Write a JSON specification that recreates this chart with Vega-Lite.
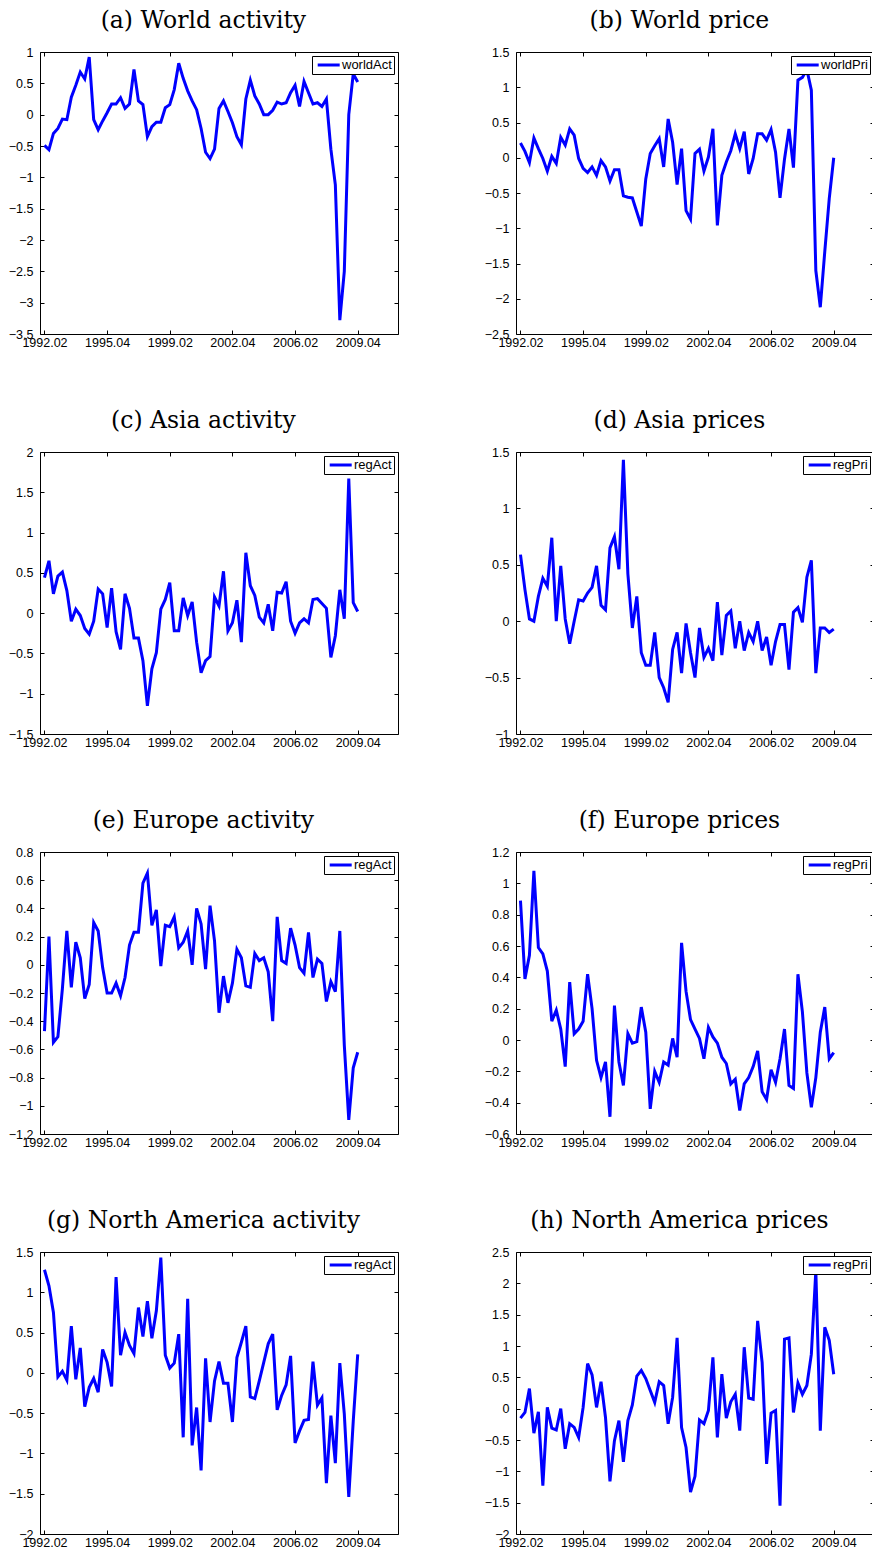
{
  "$schema": "https://vega.github.io/schema/vega-lite/v6.json",
  "padding": {"left": 7, "top": 8, "right": 0, "bottom": 0},
  "background": "white",
  "columns": 2,
  "spacing": {"row": 118, "column": 118},
  "bounds": "flush",
  "resolve": {"scale": {"color": "independent"}, "legend": {"color": "independent"}},
  "datasets": {
    "a": [
      {"t":1,"v":-0.49},{"t":2,"v":-0.56},{"t":3,"v":-0.30},{"t":4,"v":-0.22},{"t":5,"v":-0.07},{"t":6,"v":-0.08},{"t":7,"v":0.28},{"t":8,"v":0.47},{"t":9,"v":0.68},{"t":10,"v":0.57},
      {"t":11,"v":0.92},{"t":12,"v":-0.08},{"t":13,"v":-0.24},{"t":14,"v":-0.10},{"t":15,"v":0.03},{"t":16,"v":0.17},{"t":17,"v":0.17},{"t":18,"v":0.27},{"t":19,"v":0.10},{"t":20,"v":0.17},
      {"t":21,"v":0.72},{"t":22,"v":0.22},{"t":23,"v":0.16},{"t":24,"v":-0.35},{"t":25,"v":-0.19},{"t":26,"v":-0.12},{"t":27,"v":-0.12},{"t":28,"v":0.11},{"t":29,"v":0.16},{"t":30,"v":0.40},
      {"t":31,"v":0.82},{"t":32,"v":0.58},{"t":33,"v":0.38},{"t":34,"v":0.22},{"t":35,"v":0.08},{"t":36,"v":-0.22},{"t":37,"v":-0.60},{"t":38,"v":-0.70},{"t":39,"v":-0.55},{"t":40,"v":0.10},
      {"t":41,"v":0.22},{"t":42,"v":0.05},{"t":43,"v":-0.13},{"t":44,"v":-0.35},{"t":45,"v":-0.48},{"t":46,"v":0.25},{"t":47,"v":0.55},{"t":48,"v":0.30},{"t":49,"v":0.17},{"t":50,"v":0.00},
      {"t":51,"v":0.00},{"t":52,"v":0.07},{"t":53,"v":0.20},{"t":54,"v":0.17},{"t":55,"v":0.19},{"t":56,"v":0.35},{"t":57,"v":0.47},{"t":58,"v":0.13},{"t":59,"v":0.53},{"t":60,"v":0.35},
      {"t":61,"v":0.17},{"t":62,"v":0.19},{"t":63,"v":0.13},{"t":64,"v":0.25},{"t":65,"v":-0.55},{"t":66,"v":-1.12},{"t":67,"v":-3.28},{"t":68,"v":-2.50},{"t":69,"v":0.00},{"t":70,"v":0.65},
      {"t":71,"v":0.52}
    ],
    "b": [
      {"t":1,"v":0.21},{"t":2,"v":0.09},{"t":3,"v":-0.07},{"t":4,"v":0.28},{"t":5,"v":0.13},{"t":6,"v":-0.01},{"t":7,"v":-0.19},{"t":8,"v":0.02},{"t":9,"v":-0.08},{"t":10,"v":0.29},
      {"t":11,"v":0.18},{"t":12,"v":0.41},{"t":13,"v":0.32},{"t":14,"v":-0.01},{"t":15,"v":-0.15},{"t":16,"v":-0.21},{"t":17,"v":-0.13},{"t":18,"v":-0.25},{"t":19,"v":-0.04},{"t":20,"v":-0.13},
      {"t":21,"v":-0.33},{"t":22,"v":-0.17},{"t":23,"v":-0.17},{"t":24,"v":-0.54},{"t":25,"v":-0.56},{"t":26,"v":-0.57},{"t":27,"v":-0.77},{"t":28,"v":-0.97},{"t":29,"v":-0.30},{"t":30,"v":0.06},
      {"t":31,"v":0.17},{"t":32,"v":0.27},{"t":33,"v":-0.13},{"t":34,"v":0.55},{"t":35,"v":0.22},{"t":36,"v":-0.38},{"t":37,"v":0.13},{"t":38,"v":-0.75},{"t":39,"v":-0.87},{"t":40,"v":0.06},
      {"t":41,"v":0.12},{"t":42,"v":-0.19},{"t":43,"v":0.01},{"t":44,"v":0.41},{"t":45,"v":-0.96},{"t":46,"v":-0.25},{"t":47,"v":-0.06},{"t":48,"v":0.10},{"t":49,"v":0.34},{"t":50,"v":0.13},
      {"t":51,"v":0.37},{"t":52,"v":-0.23},{"t":53,"v":-0.01},{"t":54,"v":0.34},{"t":55,"v":0.34},{"t":56,"v":0.25},{"t":57,"v":0.40},{"t":58,"v":0.08},{"t":59,"v":-0.57},{"t":60,"v":-0.02},
      {"t":61,"v":0.41},{"t":62,"v":-0.14},{"t":63,"v":1.10},{"t":64,"v":1.14},{"t":65,"v":1.25},{"t":66,"v":0.96},{"t":67,"v":-1.60},{"t":68,"v":-2.12},{"t":69,"v":-1.33},{"t":70,"v":-0.58},
      {"t":71,"v":0.00}
    ],
    "c": [
      {"t":1,"v":0.44},{"t":2,"v":0.65},{"t":3,"v":0.24},{"t":4,"v":0.46},{"t":5,"v":0.51},{"t":6,"v":0.28},{"t":7,"v":-0.10},{"t":8,"v":0.05},{"t":9,"v":-0.03},{"t":10,"v":-0.19},
      {"t":11,"v":-0.26},{"t":12,"v":-0.10},{"t":13,"v":0.30},{"t":14,"v":0.24},{"t":15,"v":-0.18},{"t":16,"v":0.31},{"t":17,"v":-0.23},{"t":18,"v":-0.45},{"t":19,"v":0.24},{"t":20,"v":0.06},
      {"t":21,"v":-0.31},{"t":22,"v":-0.31},{"t":23,"v":-0.59},{"t":24,"v":-1.15},{"t":25,"v":-0.69},{"t":26,"v":-0.49},{"t":27,"v":0.05},{"t":28,"v":0.17},{"t":29,"v":0.38},{"t":30,"v":-0.22},
      {"t":31,"v":-0.22},{"t":32,"v":0.19},{"t":33,"v":-0.03},{"t":34,"v":0.14},{"t":35,"v":-0.36},{"t":36,"v":-0.74},{"t":37,"v":-0.59},{"t":38,"v":-0.54},{"t":39,"v":0.20},{"t":40,"v":0.09},
      {"t":41,"v":0.52},{"t":42,"v":-0.22},{"t":43,"v":-0.12},{"t":44,"v":0.16},{"t":45,"v":-0.36},{"t":46,"v":0.75},{"t":47,"v":0.34},{"t":48,"v":0.22},{"t":49,"v":-0.05},{"t":50,"v":-0.12},
      {"t":51,"v":0.11},{"t":52,"v":-0.22},{"t":53,"v":0.26},{"t":54,"v":0.25},{"t":55,"v":0.39},{"t":56,"v":-0.10},{"t":57,"v":-0.25},{"t":58,"v":-0.12},{"t":59,"v":-0.07},{"t":60,"v":-0.12},
      {"t":61,"v":0.17},{"t":62,"v":0.18},{"t":63,"v":0.12},{"t":64,"v":0.06},{"t":65,"v":-0.55},{"t":66,"v":-0.28},{"t":67,"v":0.29},{"t":68,"v":-0.07},{"t":69,"v":1.67},{"t":70,"v":0.13},
      {"t":71,"v":0.02}
    ],
    "d": [
      {"t":1,"v":0.59},{"t":2,"v":0.28},{"t":3,"v":0.02},{"t":4,"v":0.00},{"t":5,"v":0.22},{"t":6,"v":0.38},{"t":7,"v":0.31},{"t":8,"v":0.74},{"t":9,"v":0.00},{"t":10,"v":0.49},
      {"t":11,"v":0.02},{"t":12,"v":-0.20},{"t":13,"v":0.00},{"t":14,"v":0.19},{"t":15,"v":0.18},{"t":16,"v":0.25},{"t":17,"v":0.30},{"t":18,"v":0.49},{"t":19,"v":0.14},{"t":20,"v":0.10},
      {"t":21,"v":0.65},{"t":22,"v":0.75},{"t":23,"v":0.46},{"t":24,"v":1.43},{"t":25,"v":0.42},{"t":26,"v":-0.06},{"t":27,"v":0.22},{"t":28,"v":-0.28},{"t":29,"v":-0.39},{"t":30,"v":-0.39},
      {"t":31,"v":-0.10},{"t":32,"v":-0.50},{"t":33,"v":-0.59},{"t":34,"v":-0.72},{"t":35,"v":-0.25},{"t":36,"v":-0.10},{"t":37,"v":-0.46},{"t":38,"v":-0.02},{"t":39,"v":-0.28},{"t":40,"v":-0.50},
      {"t":41,"v":-0.06},{"t":42,"v":-0.32},{"t":43,"v":-0.24},{"t":44,"v":-0.35},{"t":45,"v":0.17},{"t":46,"v":-0.30},{"t":47,"v":0.05},{"t":48,"v":0.09},{"t":49,"v":-0.24},{"t":50,"v":0.00},
      {"t":51,"v":-0.26},{"t":52,"v":-0.10},{"t":53,"v":-0.18},{"t":54,"v":0.00},{"t":55,"v":-0.26},{"t":56,"v":-0.14},{"t":57,"v":-0.39},{"t":58,"v":-0.18},{"t":59,"v":-0.03},{"t":60,"v":-0.03},
      {"t":61,"v":-0.43},{"t":62,"v":0.08},{"t":63,"v":0.12},{"t":64,"v":-0.01},{"t":65,"v":0.39},{"t":66,"v":0.54},{"t":67,"v":-0.46},{"t":68,"v":-0.06},{"t":69,"v":-0.06},{"t":70,"v":-0.10},
      {"t":71,"v":-0.07}
    ],
    "e": [
      {"t":1,"v":-0.47},{"t":2,"v":0.20},{"t":3,"v":-0.55},{"t":4,"v":-0.51},{"t":5,"v":-0.17},{"t":6,"v":0.24},{"t":7,"v":-0.16},{"t":8,"v":0.16},{"t":9,"v":0.05},{"t":10,"v":-0.24},
      {"t":11,"v":-0.14},{"t":12,"v":0.30},{"t":13,"v":0.24},{"t":14,"v":-0.02},{"t":15,"v":-0.20},{"t":16,"v":-0.20},{"t":17,"v":-0.13},{"t":18,"v":-0.22},{"t":19,"v":-0.09},{"t":20,"v":0.14},
      {"t":21,"v":0.23},{"t":22,"v":0.23},{"t":23,"v":0.58},{"t":24,"v":0.65},{"t":25,"v":0.28},{"t":26,"v":0.39},{"t":27,"v":-0.01},{"t":28,"v":0.28},{"t":29,"v":0.27},{"t":30,"v":0.34},
      {"t":31,"v":0.12},{"t":32,"v":0.16},{"t":33,"v":0.24},{"t":34,"v":0.00},{"t":35,"v":0.40},{"t":36,"v":0.29},{"t":37,"v":-0.03},{"t":38,"v":0.42},{"t":39,"v":0.17},{"t":40,"v":-0.34},
      {"t":41,"v":-0.08},{"t":42,"v":-0.27},{"t":43,"v":-0.13},{"t":44,"v":0.11},{"t":45,"v":0.05},{"t":46,"v":-0.15},{"t":47,"v":-0.16},{"t":48,"v":0.08},{"t":49,"v":0.03},{"t":50,"v":0.05},
      {"t":51,"v":-0.05},{"t":52,"v":-0.40},{"t":53,"v":0.34},{"t":54,"v":0.03},{"t":55,"v":0.01},{"t":56,"v":0.26},{"t":57,"v":0.14},{"t":58,"v":-0.02},{"t":59,"v":-0.06},{"t":60,"v":0.23},
      {"t":61,"v":-0.09},{"t":62,"v":0.04},{"t":63,"v":0.01},{"t":64,"v":-0.26},{"t":65,"v":-0.12},{"t":66,"v":-0.19},{"t":67,"v":0.24},{"t":68,"v":-0.57},{"t":69,"v":-1.10},{"t":70,"v":-0.73},
      {"t":71,"v":-0.62}
    ],
    "f": [
      {"t":1,"v":0.89},{"t":2,"v":0.39},{"t":3,"v":0.54},{"t":4,"v":1.08},{"t":5,"v":0.59},{"t":6,"v":0.55},{"t":7,"v":0.44},{"t":8,"v":0.12},{"t":9,"v":0.19},{"t":10,"v":0.07},
      {"t":11,"v":-0.17},{"t":12,"v":0.37},{"t":13,"v":0.04},{"t":14,"v":0.07},{"t":15,"v":0.12},{"t":16,"v":0.42},{"t":17,"v":0.20},{"t":18,"v":-0.13},{"t":19,"v":-0.24},{"t":20,"v":-0.14},
      {"t":21,"v":-0.49},{"t":22,"v":0.22},{"t":23,"v":-0.14},{"t":24,"v":-0.29},{"t":25,"v":0.04},{"t":26,"v":-0.02},{"t":27,"v":-0.01},{"t":28,"v":0.21},{"t":29,"v":0.05},{"t":30,"v":-0.44},
      {"t":31,"v":-0.20},{"t":32,"v":-0.27},{"t":33,"v":-0.14},{"t":34,"v":-0.16},{"t":35,"v":0.01},{"t":36,"v":-0.11},{"t":37,"v":0.62},{"t":38,"v":0.31},{"t":39,"v":0.13},{"t":40,"v":0.07},
      {"t":41,"v":0.01},{"t":42,"v":-0.12},{"t":43,"v":0.08},{"t":44,"v":0.02},{"t":45,"v":-0.02},{"t":46,"v":-0.11},{"t":47,"v":-0.15},{"t":48,"v":-0.28},{"t":49,"v":-0.25},{"t":50,"v":-0.45},
      {"t":51,"v":-0.28},{"t":52,"v":-0.24},{"t":53,"v":-0.17},{"t":54,"v":-0.07},{"t":55,"v":-0.33},{"t":56,"v":-0.38},{"t":57,"v":-0.19},{"t":58,"v":-0.27},{"t":59,"v":-0.12},{"t":60,"v":0.07},
      {"t":61,"v":-0.29},{"t":62,"v":-0.31},{"t":63,"v":0.42},{"t":64,"v":0.18},{"t":65,"v":-0.21},{"t":66,"v":-0.43},{"t":67,"v":-0.24},{"t":68,"v":0.05},{"t":69,"v":0.21},{"t":70,"v":-0.12},
      {"t":71,"v":-0.08}
    ],
    "g": [
      {"t":1,"v":1.28},{"t":2,"v":1.08},{"t":3,"v":0.75},{"t":4,"v":-0.05},{"t":5,"v":0.02},{"t":6,"v":-0.09},{"t":7,"v":0.58},{"t":8,"v":-0.08},{"t":9,"v":0.31},{"t":10,"v":-0.42},
      {"t":11,"v":-0.18},{"t":12,"v":-0.07},{"t":13,"v":-0.24},{"t":14,"v":0.29},{"t":15,"v":0.13},{"t":16,"v":-0.17},{"t":17,"v":1.19},{"t":18,"v":0.22},{"t":19,"v":0.50},{"t":20,"v":0.34},
      {"t":21,"v":0.24},{"t":22,"v":0.81},{"t":23,"v":0.45},{"t":24,"v":0.89},{"t":25,"v":0.43},{"t":26,"v":0.77},{"t":27,"v":1.43},{"t":28,"v":0.22},{"t":29,"v":0.06},{"t":30,"v":0.12},
      {"t":31,"v":0.48},{"t":32,"v":-0.80},{"t":33,"v":0.92},{"t":34,"v":-0.90},{"t":35,"v":-0.43},{"t":36,"v":-1.21},{"t":37,"v":0.18},{"t":38,"v":-0.61},{"t":39,"v":-0.10},{"t":40,"v":0.14},
      {"t":41,"v":-0.13},{"t":42,"v":-0.13},{"t":43,"v":-0.61},{"t":44,"v":0.19},{"t":45,"v":0.38},{"t":46,"v":0.58},{"t":47,"v":-0.30},{"t":48,"v":-0.32},{"t":49,"v":-0.10},{"t":50,"v":0.13},
      {"t":51,"v":0.36},{"t":52,"v":0.48},{"t":53,"v":-0.46},{"t":54,"v":-0.28},{"t":55,"v":-0.15},{"t":56,"v":0.21},{"t":57,"v":-0.87},{"t":58,"v":-0.72},{"t":59,"v":-0.59},{"t":60,"v":-0.58},
      {"t":61,"v":0.14},{"t":62,"v":-0.40},{"t":63,"v":-0.31},{"t":64,"v":-1.37},{"t":65,"v":-0.53},{"t":66,"v":-1.12},{"t":67,"v":0.12},{"t":68,"v":-0.51},{"t":69,"v":-1.54},{"t":70,"v":-0.60},
      {"t":71,"v":0.23}
    ],
    "h": [
      {"t":1,"v":-0.15},{"t":2,"v":-0.06},{"t":3,"v":0.32},{"t":4,"v":-0.39},{"t":5,"v":-0.05},{"t":6,"v":-1.23},{"t":7,"v":0.02},{"t":8,"v":-0.31},{"t":9,"v":-0.34},{"t":10,"v":0.00},
      {"t":11,"v":-0.64},{"t":12,"v":-0.24},{"t":13,"v":-0.30},{"t":14,"v":-0.46},{"t":15,"v":0.02},{"t":16,"v":0.72},{"t":17,"v":0.54},{"t":18,"v":0.02},{"t":19,"v":0.43},{"t":20,"v":-0.14},
      {"t":21,"v":-1.16},{"t":22,"v":-0.51},{"t":23,"v":-0.19},{"t":24,"v":-0.85},{"t":25,"v":-0.19},{"t":26,"v":0.06},{"t":27,"v":0.52},{"t":28,"v":0.61},{"t":29,"v":0.48},{"t":30,"v":0.29},
      {"t":31,"v":0.10},{"t":32,"v":0.43},{"t":33,"v":0.37},{"t":34,"v":-0.24},{"t":35,"v":0.18},{"t":36,"v":1.13},{"t":37,"v":-0.30},{"t":38,"v":-0.62},{"t":39,"v":-1.33},{"t":40,"v":-1.08},
      {"t":41,"v":-0.18},{"t":42,"v":-0.24},{"t":43,"v":-0.03},{"t":44,"v":0.82},{"t":45,"v":-0.46},{"t":46,"v":0.55},{"t":47,"v":-0.15},{"t":48,"v":0.11},{"t":49,"v":0.23},{"t":50,"v":-0.35},
      {"t":51,"v":0.98},{"t":52,"v":0.17},{"t":53,"v":0.15},{"t":54,"v":1.40},{"t":55,"v":0.74},{"t":56,"v":-0.88},{"t":57,"v":-0.07},{"t":58,"v":-0.03},{"t":59,"v":-1.55},{"t":60,"v":1.11},
      {"t":61,"v":1.13},{"t":62,"v":-0.06},{"t":63,"v":0.41},{"t":64,"v":0.23},{"t":65,"v":0.37},{"t":66,"v":0.87},{"t":67,"v":2.20},{"t":68,"v":-0.35},{"t":69,"v":1.30},{"t":70,"v":1.09},
      {"t":71,"v":0.55}
    ]
  },
  "concat": [
    {
      "title": "(a) World activity",
      "width": 358, "height": 282,
      "data": {"name": "a"},
      "layer": [
        {"mark": "line", "encoding": {
          "x": {"field": "t", "type": "quantitative", "scale": {"domain": [0, 80], "nice": false, "zero": false}, "axis": {"orient": "bottom", "values": [1, 15, 29, 43, 57, 71], "labelExpr": "datum.value == 1 ? '1992.02' : datum.value == 15 ? '1995.04' : datum.value == 29 ? '1999.02' : datum.value == 43 ? '2002.04' : datum.value == 57 ? '2006.02' : '2009.04'"}},
          "y": {"field": "v", "type": "quantitative", "scale": {"domain": [-3.5, 1], "nice": false, "zero": false}, "axis": {"orient": "left", "values": [-3.5, -3, -2.5, -2, -1.5, -1, -0.5, 0, 0.5, 1]}},
          "color": {"datum": "worldAct", "type": "nominal", "scale": {"range": ["#0000ff"]}, "legend": {"orient": "top-right"}}
        }},
        {"mark": {"type": "line", "strokeOpacity": 0}, "encoding": {
          "x": {"field": "t", "type": "quantitative", "axis": {"orient": "top", "labels": false, "values": [1, 15, 29, 43, 57, 71]}},
          "y": {"field": "v", "type": "quantitative", "axis": {"orient": "right", "labels": false, "values": [-3.5, -3, -2.5, -2, -1.5, -1, -0.5, 0, 0.5, 1]}}
        }}
      ],
      "resolve": {"axis": {"x": "independent", "y": "independent"}}
    },
    {
      "title": "(b) World price",
      "width": 358, "height": 282,
      "data": {"name": "b"},
      "layer": [
        {"mark": "line", "encoding": {
          "x": {"field": "t", "type": "quantitative", "scale": {"domain": [0, 80], "nice": false, "zero": false}, "axis": {"orient": "bottom", "values": [1, 15, 29, 43, 57, 71], "labelExpr": "datum.value == 1 ? '1992.02' : datum.value == 15 ? '1995.04' : datum.value == 29 ? '1999.02' : datum.value == 43 ? '2002.04' : datum.value == 57 ? '2006.02' : '2009.04'"}},
          "y": {"field": "v", "type": "quantitative", "scale": {"domain": [-2.5, 1.5], "nice": false, "zero": false}, "axis": {"orient": "left", "values": [-2.5, -2, -1.5, -1, -0.5, 0, 0.5, 1, 1.5]}},
          "color": {"datum": "worldPri", "type": "nominal", "scale": {"range": ["#0000ff"]}, "legend": {"orient": "top-right"}}
        }},
        {"mark": {"type": "line", "strokeOpacity": 0}, "encoding": {
          "x": {"field": "t", "type": "quantitative", "axis": {"orient": "top", "labels": false, "values": [1, 15, 29, 43, 57, 71]}},
          "y": {"field": "v", "type": "quantitative", "axis": {"orient": "right", "labels": false, "values": [-2.5, -2, -1.5, -1, -0.5, 0, 0.5, 1, 1.5]}}
        }}
      ],
      "resolve": {"axis": {"x": "independent", "y": "independent"}}
    },
    {
      "title": "(c) Asia activity",
      "width": 358, "height": 282,
      "data": {"name": "c"},
      "layer": [
        {"mark": "line", "encoding": {
          "x": {"field": "t", "type": "quantitative", "scale": {"domain": [0, 80], "nice": false, "zero": false}, "axis": {"orient": "bottom", "values": [1, 15, 29, 43, 57, 71], "labelExpr": "datum.value == 1 ? '1992.02' : datum.value == 15 ? '1995.04' : datum.value == 29 ? '1999.02' : datum.value == 43 ? '2002.04' : datum.value == 57 ? '2006.02' : '2009.04'"}},
          "y": {"field": "v", "type": "quantitative", "scale": {"domain": [-1.5, 2], "nice": false, "zero": false}, "axis": {"orient": "left", "values": [-1.5, -1, -0.5, 0, 0.5, 1, 1.5, 2]}},
          "color": {"datum": "regAct", "type": "nominal", "scale": {"range": ["#0000ff"]}, "legend": {"orient": "top-right"}}
        }},
        {"mark": {"type": "line", "strokeOpacity": 0}, "encoding": {
          "x": {"field": "t", "type": "quantitative", "axis": {"orient": "top", "labels": false, "values": [1, 15, 29, 43, 57, 71]}},
          "y": {"field": "v", "type": "quantitative", "axis": {"orient": "right", "labels": false, "values": [-1.5, -1, -0.5, 0, 0.5, 1, 1.5, 2]}}
        }}
      ],
      "resolve": {"axis": {"x": "independent", "y": "independent"}}
    },
    {
      "title": "(d) Asia prices",
      "width": 358, "height": 282,
      "data": {"name": "d"},
      "layer": [
        {"mark": "line", "encoding": {
          "x": {"field": "t", "type": "quantitative", "scale": {"domain": [0, 80], "nice": false, "zero": false}, "axis": {"orient": "bottom", "values": [1, 15, 29, 43, 57, 71], "labelExpr": "datum.value == 1 ? '1992.02' : datum.value == 15 ? '1995.04' : datum.value == 29 ? '1999.02' : datum.value == 43 ? '2002.04' : datum.value == 57 ? '2006.02' : '2009.04'"}},
          "y": {"field": "v", "type": "quantitative", "scale": {"domain": [-1, 1.5], "nice": false, "zero": false}, "axis": {"orient": "left", "values": [-1, -0.5, 0, 0.5, 1, 1.5]}},
          "color": {"datum": "regPri", "type": "nominal", "scale": {"range": ["#0000ff"]}, "legend": {"orient": "top-right"}}
        }},
        {"mark": {"type": "line", "strokeOpacity": 0}, "encoding": {
          "x": {"field": "t", "type": "quantitative", "axis": {"orient": "top", "labels": false, "values": [1, 15, 29, 43, 57, 71]}},
          "y": {"field": "v", "type": "quantitative", "axis": {"orient": "right", "labels": false, "values": [-1, -0.5, 0, 0.5, 1, 1.5]}}
        }}
      ],
      "resolve": {"axis": {"x": "independent", "y": "independent"}}
    },
    {
      "title": "(e) Europe activity",
      "width": 358, "height": 282,
      "data": {"name": "e"},
      "layer": [
        {"mark": "line", "encoding": {
          "x": {"field": "t", "type": "quantitative", "scale": {"domain": [0, 80], "nice": false, "zero": false}, "axis": {"orient": "bottom", "values": [1, 15, 29, 43, 57, 71], "labelExpr": "datum.value == 1 ? '1992.02' : datum.value == 15 ? '1995.04' : datum.value == 29 ? '1999.02' : datum.value == 43 ? '2002.04' : datum.value == 57 ? '2006.02' : '2009.04'"}},
          "y": {"field": "v", "type": "quantitative", "scale": {"domain": [-1.2, 0.8], "nice": false, "zero": false}, "axis": {"orient": "left", "values": [-1.2, -1, -0.8, -0.6, -0.4, -0.2, 0, 0.2, 0.4, 0.6, 0.8]}},
          "color": {"datum": "regAct", "type": "nominal", "scale": {"range": ["#0000ff"]}, "legend": {"orient": "top-right"}}
        }},
        {"mark": {"type": "line", "strokeOpacity": 0}, "encoding": {
          "x": {"field": "t", "type": "quantitative", "axis": {"orient": "top", "labels": false, "values": [1, 15, 29, 43, 57, 71]}},
          "y": {"field": "v", "type": "quantitative", "axis": {"orient": "right", "labels": false, "values": [-1.2, -1, -0.8, -0.6, -0.4, -0.2, 0, 0.2, 0.4, 0.6, 0.8]}}
        }}
      ],
      "resolve": {"axis": {"x": "independent", "y": "independent"}}
    },
    {
      "title": "(f) Europe prices",
      "width": 358, "height": 282,
      "data": {"name": "f"},
      "layer": [
        {"mark": "line", "encoding": {
          "x": {"field": "t", "type": "quantitative", "scale": {"domain": [0, 80], "nice": false, "zero": false}, "axis": {"orient": "bottom", "values": [1, 15, 29, 43, 57, 71], "labelExpr": "datum.value == 1 ? '1992.02' : datum.value == 15 ? '1995.04' : datum.value == 29 ? '1999.02' : datum.value == 43 ? '2002.04' : datum.value == 57 ? '2006.02' : '2009.04'"}},
          "y": {"field": "v", "type": "quantitative", "scale": {"domain": [-0.6, 1.2], "nice": false, "zero": false}, "axis": {"orient": "left", "values": [-0.6, -0.4, -0.2, 0, 0.2, 0.4, 0.6, 0.8, 1, 1.2]}},
          "color": {"datum": "regPri", "type": "nominal", "scale": {"range": ["#0000ff"]}, "legend": {"orient": "top-right"}}
        }},
        {"mark": {"type": "line", "strokeOpacity": 0}, "encoding": {
          "x": {"field": "t", "type": "quantitative", "axis": {"orient": "top", "labels": false, "values": [1, 15, 29, 43, 57, 71]}},
          "y": {"field": "v", "type": "quantitative", "axis": {"orient": "right", "labels": false, "values": [-0.6, -0.4, -0.2, 0, 0.2, 0.4, 0.6, 0.8, 1, 1.2]}}
        }}
      ],
      "resolve": {"axis": {"x": "independent", "y": "independent"}}
    },
    {
      "title": "(g) North America activity",
      "width": 358, "height": 282,
      "data": {"name": "g"},
      "layer": [
        {"mark": "line", "encoding": {
          "x": {"field": "t", "type": "quantitative", "scale": {"domain": [0, 80], "nice": false, "zero": false}, "axis": {"orient": "bottom", "values": [1, 15, 29, 43, 57, 71], "labelExpr": "datum.value == 1 ? '1992.02' : datum.value == 15 ? '1995.04' : datum.value == 29 ? '1999.02' : datum.value == 43 ? '2002.04' : datum.value == 57 ? '2006.02' : '2009.04'"}},
          "y": {"field": "v", "type": "quantitative", "scale": {"domain": [-2, 1.5], "nice": false, "zero": false}, "axis": {"orient": "left", "values": [-2, -1.5, -1, -0.5, 0, 0.5, 1, 1.5]}},
          "color": {"datum": "regAct", "type": "nominal", "scale": {"range": ["#0000ff"]}, "legend": {"orient": "top-right"}}
        }},
        {"mark": {"type": "line", "strokeOpacity": 0}, "encoding": {
          "x": {"field": "t", "type": "quantitative", "axis": {"orient": "top", "labels": false, "values": [1, 15, 29, 43, 57, 71]}},
          "y": {"field": "v", "type": "quantitative", "axis": {"orient": "right", "labels": false, "values": [-2, -1.5, -1, -0.5, 0, 0.5, 1, 1.5]}}
        }}
      ],
      "resolve": {"axis": {"x": "independent", "y": "independent"}}
    },
    {
      "title": "(h) North America prices",
      "width": 358, "height": 282,
      "data": {"name": "h"},
      "layer": [
        {"mark": "line", "encoding": {
          "x": {"field": "t", "type": "quantitative", "scale": {"domain": [0, 80], "nice": false, "zero": false}, "axis": {"orient": "bottom", "values": [1, 15, 29, 43, 57, 71], "labelExpr": "datum.value == 1 ? '1992.02' : datum.value == 15 ? '1995.04' : datum.value == 29 ? '1999.02' : datum.value == 43 ? '2002.04' : datum.value == 57 ? '2006.02' : '2009.04'"}},
          "y": {"field": "v", "type": "quantitative", "scale": {"domain": [-2, 2.5], "nice": false, "zero": false}, "axis": {"orient": "left", "values": [-2, -1.5, -1, -0.5, 0, 0.5, 1, 1.5, 2, 2.5]}},
          "color": {"datum": "regPri", "type": "nominal", "scale": {"range": ["#0000ff"]}, "legend": {"orient": "top-right"}}
        }},
        {"mark": {"type": "line", "strokeOpacity": 0}, "encoding": {
          "x": {"field": "t", "type": "quantitative", "axis": {"orient": "top", "labels": false, "values": [1, 15, 29, 43, 57, 71]}},
          "y": {"field": "v", "type": "quantitative", "axis": {"orient": "right", "labels": false, "values": [-2, -1.5, -1, -0.5, 0, 0.5, 1, 1.5, 2, 2.5]}}
        }}
      ],
      "resolve": {"axis": {"x": "independent", "y": "independent"}}
    }
  ],
  "config": {
    "view": {"stroke": "black", "strokeWidth": 1},
    "line": {"strokeWidth": 3},
    "axis": {
      "title": null, "domain": false, "grid": false,
      "ticks": true, "tickSize": -4, "tickColor": "black", "tickWidth": 1,
      "labelFont": "Liberation Sans", "labelFontSize": 12.5, "labelColor": "black",
      "labelFlush": false, "labelOverlap": false, "format": ".2~f"
    },
    "axisX": {"labelPadding": 6.5},
    "axisY": {"labelPadding": 11},
    "title": {"font": "DejaVu Serif", "fontSize": 23.5, "fontWeight": "normal", "color": "black", "anchor": "middle", "frame": "bounds", "offset": 14, "baseline": "alphabetic"},
    "legend": {
      "title": null, "symbolType": "M-0.6,0H3.4", "symbolSize": 121, "symbolStrokeWidth": 3,
      "labelFont": "Liberation Sans", "labelFontSize": 13, "labelColor": "black",
      "strokeColor": "black", "fillColor": "white", "padding": 2, "offset": 4, "cornerRadius": 0,
      "labelOffset": 14
    }
  }
}
